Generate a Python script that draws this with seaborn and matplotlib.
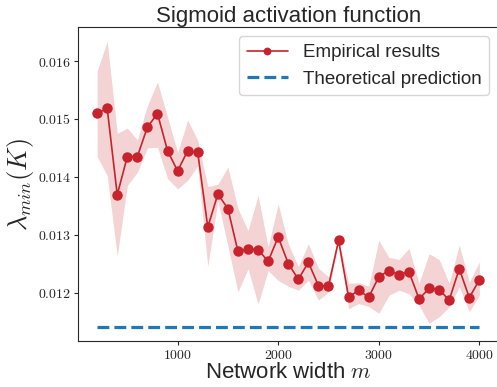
import numpy as np
import pandas as pd
import matplotlib
matplotlib.use('Agg')
import matplotlib.pyplot as plt
from matplotlib.ticker import FuncFormatter
import seaborn as sns

# ── Data ──────────────────────────────────────────────────────────────────────

widths = list(range(200, 4001, 100))

emp_mean = [0.01510, 0.01518, 0.01369, 0.01435, 0.01435, 0.01486, 0.01509,
            0.01445, 0.01410, 0.01445, 0.01442, 0.01313, 0.01370, 0.01345,
            0.01271, 0.01275, 0.01274, 0.01254, 0.01296, 0.01250, 0.01223,
            0.01252, 0.01212, 0.01211, 0.01290, 0.01192, 0.01204, 0.01192,
            0.01227, 0.01238, 0.01231, 0.01236, 0.01189, 0.01207, 0.01205,
            0.01187, 0.01241, 0.01191, 0.01222]

emp_upper = [0.01583, 0.01634, 0.01475, 0.01484, 0.01464, 0.01523, 0.01564,
             0.01503, 0.01442, 0.01498, 0.01463, 0.01383, 0.01387, 0.01417,
             0.01345, 0.01307, 0.01368, 0.01279, 0.01353, 0.01284, 0.01245,
             0.01284, 0.01242, 0.01227, 0.01294, 0.01216, 0.01217, 0.01211,
             0.01290, 0.01261, 0.01257, 0.01276, 0.01216, 0.01267, 0.01257,
             0.01216, 0.01282, 0.01218, 0.01253]

emp_lower = [0.01435, 0.01402, 0.01263, 0.01385, 0.01408, 0.01450, 0.01451,
             0.01397, 0.01379, 0.01394, 0.01419, 0.01245, 0.01359, 0.01280,
             0.01201, 0.01241, 0.01180, 0.01238, 0.01221, 0.01211, 0.01204,
             0.01221, 0.01187, 0.01201, 0.01286, 0.01172, 0.01181, 0.01176,
             0.01164, 0.01195, 0.01204, 0.01198, 0.01178, 0.01147, 0.01158,
             0.01175, 0.01210, 0.01167, 0.01195]

theory_value = 0.01141

yticks = [0.012, 0.013, 0.014, 0.015, 0.016]
xticks = [1000, 2000, 3000, 4000]

df = pd.DataFrame({'m': widths, 'mean': emp_mean,
                   'lower': emp_lower, 'upper': emp_upper})
df['theory'] = theory_value

# ── Style ─────────────────────────────────────────────────────────────────────

sns.set_style('ticks')
plt.rcParams['font.family'] = ['Liberation Sans', 'DejaVu Sans']
plt.rcParams['mathtext.fontset'] = 'cm'

red = '#c8232c'
blue = '#1f77b4'

fig = plt.figure(figsize=(4.97, 3.87), dpi=100)
ax = fig.add_axes([0.157, 0.119, 0.846, 0.811])

# ── Plot ──────────────────────────────────────────────────────────────────────

ax.fill_between(df['m'], df['lower'], df['upper'], color=red, alpha=0.2,
                linewidth=0)
sns.lineplot(data=df, x='m', y='mean', ax=ax, color=red, marker='o',
             markersize=7.5, markeredgewidth=0, linewidth=1.2,
             label='Empirical results')
sns.lineplot(data=df, x='m', y='theory', ax=ax, color=blue, linewidth=2.3,
             linestyle='--', label='Theoretical prediction')

ax.set_xticks(xticks)
ax.set_yticks(yticks)
ax.xaxis.set_major_formatter(FuncFormatter(lambda v, p: f'${v:.0f}$'))
ax.yaxis.set_major_formatter(FuncFormatter(lambda v, p: f'${v:.3f}$'))
ax.tick_params(labelsize=10, length=3, pad=2, colors='.15')

ax.set_title('Sigmoid activation function', fontsize=16, pad=3)
ax.set_xlabel('Network width $m$', fontsize=16, labelpad=0)
ax.set_ylabel(r'$\lambda_{min}(K)$', fontsize=19, labelpad=1)

ax.legend(loc='upper right', fontsize=13.5, handlelength=2.2, markerscale=0.75)

fig.savefig('out.png', dpi=100)
